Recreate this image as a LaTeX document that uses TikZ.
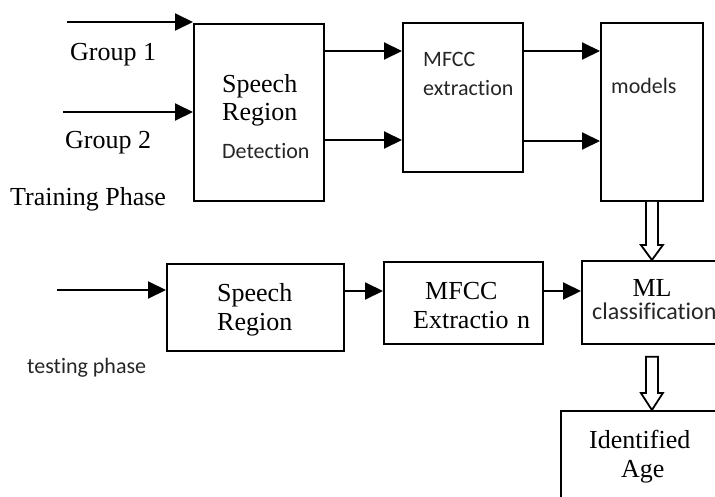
\documentclass[tikz,border=0pt]{standalone}
\usepackage{fontspec}
\setmainfont{Liberation Serif}
\newfontfamily\calib[Ligatures=CommonOff]{Carlito}
\usetikzlibrary{arrows.meta,calc}
\begin{document}
\begin{tikzpicture}[x=1pt,y=-1pt,
 box/.style={draw, line width=1.8pt, inner sep=0pt, anchor=north west},
 conn/.style={line width=2pt, -{Triangle[length=18pt,width=17pt]}},
 serif/.style={font=\fontsize{26}{28}\selectfont, inner sep=0pt, anchor=base west},
 sans/.style={font=\calib\fontsize{22}{24}\selectfont, inner sep=0pt, anchor=base west, text=black!85},
 hollow/.style={draw, line width=1.8pt, fill=white, line join=miter}]
\useasboundingbox (0,0) rectangle (715,496);
\clip (0,0) rectangle (715,496);
% boxes
\node[box, minimum width=130pt, minimum height=177pt] (srd) at (193,23) {};
\node[box, minimum width=120pt, minimum height=149pt] (mfa) at (402,22) {};
\node[box, minimum width=102pt, minimum height=178pt] (models) at (600,22) {};
\node[box, minimum width=177pt, minimum height=87pt] (srb) at (166,263) {};
\node[box, minimum width=159pt, minimum height=82pt] (mfb) at (383,261) {};
\node[box, minimum width=142pt, minimum height=83pt] (ml) at (581,260) {};
\node[box, minimum width=180pt, minimum height=130pt] (age) at (560,410) {};
% texts
\node[serif] (tg1) at (70,60) {Group 1};
\node[serif] (tg2) at (65,148) {Group 2};
\node[serif] (ttr) at (10,205) {Training Phase};
\node[serif] (ts1) at (222,92) {Speech};
\node[serif] (ts2) at (222,120) {Region};
\node[sans] (ts3) at (222,158) {Detection};
\node[sans] (tm1) at (423,66) {MFCC};
\node[sans] (tm2) at (423,95) {extraction};
\node[sans] (tmo) at (611,93) {models};
\node[serif] (tb1) at (217,301) {Speech};
\node[serif] (tb2) at (217,330) {Region};
\node[serif] (tb3) at (425,299) {MFCC};
\node[serif] (tb4) at (413,328) {Extractio\,\,n};
\node[serif, anchor=base] (tml) at (652,296) {ML};
\node[sans, font=\calib\fontsize{24}{26}\selectfont] (tcl) at (592,319) {classification};
\node[serif] (tid) at (589,448) {Identified};
\node[serif] (tag) at (621,477) {Age};
\node[sans] (tte) at (27,373) {testing phase};
% connectors
\coordinate (g1) at (67,22);
\coordinate (g2) at (63,112);
\coordinate (g3) at (57,290);
\draw[conn] (g1) -- (g1 -| srd.west);
\draw[conn] (g2) -- (g2 -| srd.west);
\draw[conn] (srd.east |- 0,51) -- (mfa.west |- 0,51);
\draw[conn] (srd.east |- 0,140) -- (mfa.west |- 0,140);
\draw[conn] (mfa.east |- 0,51) -- (models.west |- 0,51);
\draw[conn] (mfa.east |- 0,141) -- (models.west |- 0,141);
\draw[conn] (g3) -- (g3 -| srb.west);
\draw[conn] (srb.east |- 0,291) -- (mfb.west |- 0,291);
\draw[conn] (mfb.east |- 0,291) -- (ml.west |- 0,291);
% hollow arrows
\coordinate (h1t) at (models.south);
\coordinate (h1b) at (h1t |- ml.north);
\draw[hollow] ($(h1t)+(-6,0)$) -- ($(h1b)+(-6,-15)$) -- ($(h1b)+(-11,-15)$) -- (h1b)
  -- ($(h1b)+(11,-15)$) -- ($(h1b)+(6,-15)$) -- ($(h1t)+(6,0)$);
\coordinate (h2t) at ($(h1t |- ml.south)+(0,12)$);
\coordinate (h2b) at (h2t |- age.north);
\draw[hollow] ($(h2t)+(-6,0)$) -- ($(h2b)+(-6,-17)$) -- ($(h2b)+(-11,-17)$) -- (h2b)
  -- ($(h2b)+(11,-17)$) -- ($(h2b)+(6,-17)$) -- ($(h2t)+(6,0)$) -- cycle;
\end{tikzpicture}
\end{document}
